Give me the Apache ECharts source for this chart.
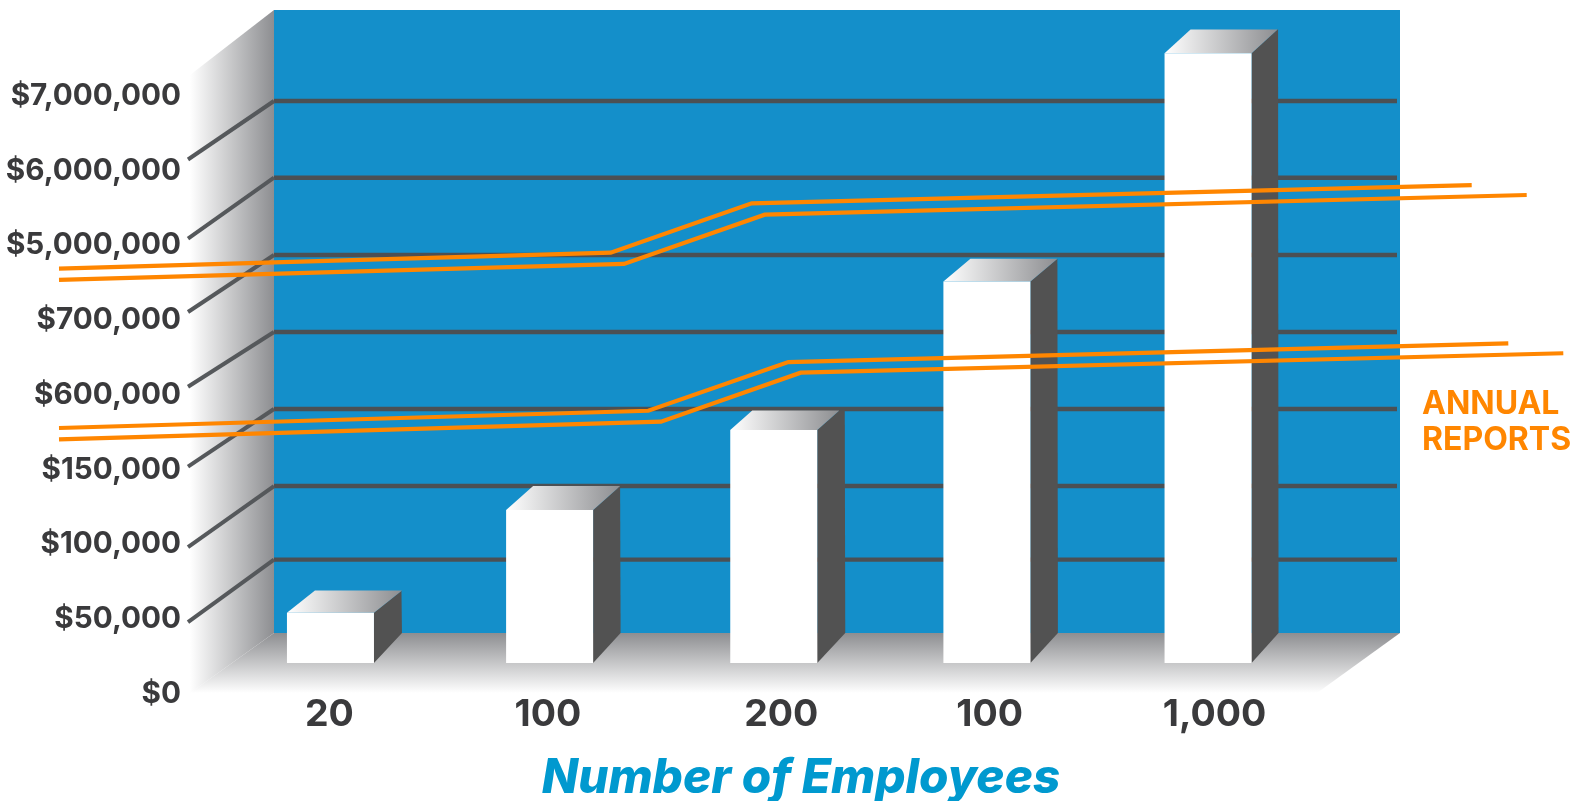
<!DOCTYPE html>
<html>
<head>
<meta charset="utf-8">
<title>Annual reports by number of employees</title>
<style>html,body{margin:0;padding:0;background:#fff}#chart{width:1585px;height:801px}</style>
<script src="https://cdn.jsdelivr.net/npm/echarts@6/dist/echarts.min.js"></script>
</head>
<body>
<div id="chart"></div>
<script>
// Chart content
const employeeCategories = ['20', '100', '200', '100', '1,000'];
const revenueValues = [29000, 100000, 149000, 695000, 6940000];
const dollarTicks = [0, 50000, 100000, 150000, 600000, 700000, 5000000, 6000000, 7000000];
const dollarTickLabels = ['$0', '$50,000', '$100,000', '$150,000', '$600,000', '$700,000', '$5,000,000', '$6,000,000', '$7,000,000'];
// Where each dollar tick sits on the broken wall scale, in gridline steps
const wallSteps = [0, 0.963, 1.929, 2.94, 3.95, 4.961, 5.975, 6.982, 7.98];
// Paired report bands: [page x, wall steps]
const reportUpperA = [[59, 4.781], [610.7, 4.991], [751.7, 5.639], [1471.7, 5.879]];
const reportUpperB = [[59, 4.633], [624, 4.843], [764.7, 5.49], [1526.7, 5.748]];
const reportLowerA = [[59, 2.69], [648.3, 2.917], [788.3, 3.556], [1508.3, 3.802]];
const reportLowerB = [[59, 2.542], [661, 2.773], [800.7, 3.416], [1563.3, 3.671]];

// Scene layout
const wallLeft = 274, wallRight = 1400, wallTop = 10, wallBase = 633;
const frontEdge = 190, frontTop = 75, floorFront = 693, floorRightFront = 1317;
const gridEnd = 1397, sideEnd = 188;
const sideDrop = [0, 62.4, 61, 57.7, 54.7, 57, 61, 58.5];
const barWidth = 87, baseDrop = 30;
const barShift = [0, -0.25, 4.5, -1.75, 0];
const topDrop = [22.3, 24, 19.5, 22.7, 23.8];
const topDepth = [28, 27, 22, 27, 26];
const sideDepth = [27.5, 27, 27.5, 27, 26.5];
const labelShift = [-1, -2, 12, 1, 6.5];
const stepsMax = 8.176;

const INK = '#3a3a3c', GRID = '#4b5054', SIDE = '#525252', SHADE = '#8d8e91', BLUE = '#148fca', ORANGE = '#ff8600';
const FONT = 'Inter, "Open Sans", sans-serif';

function toSteps(v) {
  for (let i = 1; i < dollarTicks.length; i++) {
    if (v <= dollarTicks[i]) {
      const t = (v - dollarTicks[i - 1]) / (dollarTicks[i] - dollarTicks[i - 1]);
      return wallSteps[i - 1] + t * (wallSteps[i] - wallSteps[i - 1]);
    }
  }
  return wallSteps[wallSteps.length - 1];
}

const gradient = (horizontal, from, to) => new echarts.graphic.LinearGradient(
  0, 0, horizontal ? 1 : 0, horizontal ? 0 : 1,
  [{ offset: 0, color: from }, { offset: 1, color: to }]
);

const poly = (points, fill) => ({ type: 'polygon', shape: { points }, style: { fill } });

function renderRoom() {
  return {
    type: 'group',
    children: [
      poly([[frontEdge, frontTop], [wallLeft, wallTop], [wallLeft, wallBase], [frontEdge, floorFront]], gradient(true, '#ffffff', SHADE)),
      poly([[wallLeft, wallBase], [wallRight, wallBase], [floorRightFront, floorFront], [frontEdge, floorFront]], gradient(false, SHADE, '#ffffff')),
      { type: 'rect', shape: { x: wallLeft, y: wallTop, width: wallRight - wallLeft, height: wallBase - wallTop }, style: { fill: BLUE } }
    ]
  };
}

function renderGridLine(params, api) {
  const i = api.value(0);
  const y = api.coord([0, api.value(1)])[1];
  return {
    type: 'group',
    children: [
      { type: 'line', shape: { x1: wallLeft, y1: y, x2: gridEnd, y2: y }, style: { stroke: GRID, lineWidth: 4.4 } },
      { type: 'line', shape: { x1: wallLeft, y1: y, x2: sideEnd, y2: y + sideDrop[i] }, style: { stroke: '#55585b', lineWidth: 4 } }
    ]
  };
}

function renderBar(params, api) {
  const i = api.value(0);
  const centre = api.coord([i, 0])[0] + barShift[i];
  const backBase = api.coord([i, 0])[1];
  const backTop = api.coord([i, api.value(1)])[1];
  const x0 = centre - barWidth / 2, x1 = centre + barWidth / 2;
  const y0 = backTop + topDrop[i], y1 = backBase + baseDrop;
  return {
    type: 'group',
    children: [
      poly([[x1, y0], [x1 + topDepth[i], backTop], [x1 + sideDepth[i], backTop], [x1 + sideDepth[i] + 0.5, backBase], [x1, y1]], SIDE),
      poly([[x0, y0], [x0 + topDepth[i], backTop], [x1 + topDepth[i], backTop], [x1, y0]], gradient(true, '#ffffff', SHADE)),
      { type: 'rect', shape: { x: x0, y: y0, width: barWidth, height: y1 - y0 }, style: { fill: '#ffffff' } }
    ]
  };
}

const reportLine = data => ({
  type: 'line', xAxisIndex: 1, yAxisIndex: 1, data, symbol: 'none', clip: false, z: 6,
  lineStyle: { color: ORANGE, width: 4.2, join: 'miter', cap: 'butt' }, silent: true
});

// Category labels are nudged individually with token padding
const labelRich = {};
labelShift.forEach((s, i) => {
  labelRich['c' + i] = {
    fontFamily: FONT, fontWeight: 700, fontSize: 37.5, color: INK,
    padding: [0, s < 0 ? -2 * s : 0, 0, s > 0 ? 2 * s : 0]
  };
});

const chart = echarts.init(document.getElementById('chart'), null, { renderer: 'canvas' });
chart.setOption({
  animation: false,
  backgroundColor: '#ffffff',
  title: {
    text: 'Number of Employees', left: 796, top: 750, textAlign: 'center',
    textStyle: { fontFamily: FONT, fontSize: 47.6, fontWeight: 800, fontStyle: 'italic', color: '#0099cf' }
  },
  grid: [
    { left: 220.75, width: 1097, top: wallTop, height: wallBase - wallTop },
    { left: 0, width: 1585, top: wallTop, height: wallBase - wallTop },
    { left: 190, width: 10, top: 96, height: 598 }
  ],
  xAxis: [
    {
      type: 'category', gridIndex: 0, data: employeeCategories,
      axisLine: { show: false }, axisTick: { show: false },
      axisLabel: {
        interval: 0, margin: 63, rich: labelRich,
        formatter: (v, i) => '{c' + i + '|' + v + '}'
      }
    },
    { type: 'value', gridIndex: 1, min: 0, max: 1585, show: false },
    { type: 'value', gridIndex: 2, min: 0, max: 1, show: false }
  ],
  yAxis: [
    { type: 'value', gridIndex: 0, min: 0, max: stepsMax, show: false, splitLine: { show: false } },
    { type: 'value', gridIndex: 1, min: 0, max: stepsMax, show: false, splitLine: { show: false } },
    {
      type: 'category', gridIndex: 2, data: dollarTickLabels, boundaryGap: false,
      axisLine: { show: false }, axisTick: { show: false }, splitLine: { show: false },
      axisLabel: { interval: 0, margin: 9, align: 'right', fontFamily: FONT, fontWeight: 700, fontSize: 29.7, color: INK }
    }
  ],
  graphic: [{
    type: 'text', left: 1422, top: 386, z: 10,
    style: { text: 'ANNUAL\nREPORTS', fontFamily: FONT, fontWeight: 700, fontSize: 32, lineHeight: 36, fill: ORANGE }
  }],
  series: [
    { type: 'custom', xAxisIndex: 1, yAxisIndex: 1, z: 1, silent: true, data: [[0, 0]], renderItem: renderRoom },
    {
      type: 'custom', xAxisIndex: 1, yAxisIndex: 1, z: 2, silent: true,
      data: wallSteps.map((s, i) => [i, s]).slice(1, 8), renderItem: renderGridLine
    },
    {
      type: 'custom', xAxisIndex: 0, yAxisIndex: 0, z: 4,
      data: revenueValues.map((v, i) => [i, toSteps(v)]), renderItem: renderBar
    },
    reportLine(reportUpperA), reportLine(reportUpperB), reportLine(reportLowerA), reportLine(reportLowerB)
  ]
});
</script>
</body>
</html>
